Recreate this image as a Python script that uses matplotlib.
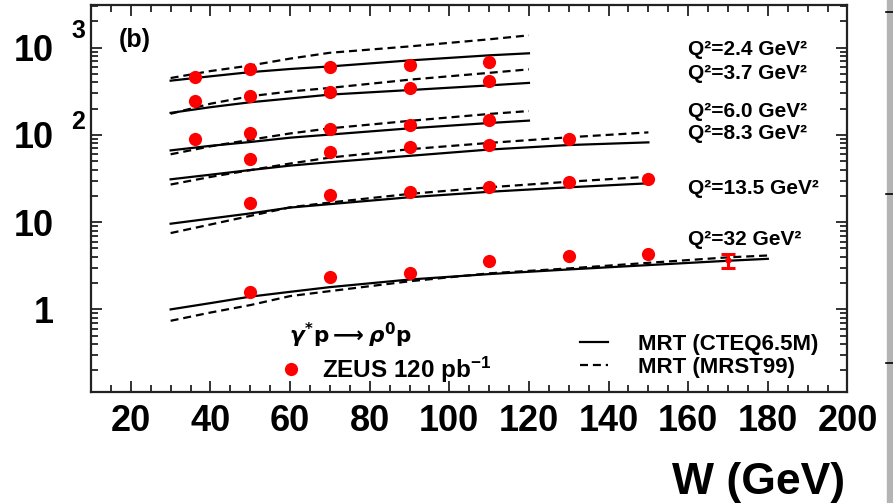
import matplotlib
matplotlib.use("Agg")
import matplotlib.pyplot as plt
from matplotlib.ticker import MultipleLocator, LogLocator, NullFormatter, FixedLocator, FixedFormatter
from matplotlib.lines import Line2D
from matplotlib.patches import Rectangle

plt.rcParams['font.family'] = ['Liberation Sans', 'DejaVu Sans']
plt.rcParams['font.weight'] = 'bold'
plt.rcParams['mathtext.fontset'] = 'custom'
plt.rcParams['mathtext.rm'] = 'Liberation Sans:bold'
plt.rcParams['mathtext.it'] = 'Liberation Sans:italic:bold'
plt.rcParams['mathtext.bf'] = 'Liberation Sans:bold'

# ---------------- data ----------------
q2_labels = ["Q²=2.4 GeV²", "Q²=3.7 GeV²", "Q²=6.0 GeV²", "Q²=8.3 GeV²",
             "Q²=13.5 GeV²", "Q²=32 GeV²"]

# model curves (W grids)
w_a = [30, 40, 50, 60, 70, 90, 110, 120]
w_b = [30, 40, 50, 60, 70, 90, 110, 130, 150]
w_c = [30, 40, 50, 60, 70, 90, 110, 130, 150, 170, 180]

cteq_q2_2p4 = [419, 470, 525, 570, 610, 715, 818, 863]
mrst_q2_2p4 = [449, 540, 625, 750, 875, 1035, 1248, 1387]
cteq_q2_3p7 = [179, 208, 237, 262, 290, 327, 370, 395]
mrst_q2_3p7 = [175, 228, 278, 315, 346, 430, 515, 565]
cteq_q2_6p0 = [66.5, 75, 83, 93, 101, 119, 137, 146]
mrst_q2_6p0 = [60, 74, 88, 104, 119, 145, 174, 188]
cteq_q2_8p3 = [31, 35, 39.6, 44.5, 48.7, 57.6, 68, 76.6, 82.2]
mrst_q2_8p3 = [27, 33, 39.5, 47, 55, 68.6, 81, 94, 107]
cteq_q2_13p5 = [9.6, 11.0, 12.6, 14.7, 16.1, 19.3, 22.3, 25.1, 27.9]
mrst_q2_13p5 = [7.5, 9.4, 11.8, 14.8, 16.8, 21.1, 25.1, 29.1, 33.2]
cteq_q2_32 = [1.0, 1.18, 1.40, 1.59, 1.80, 2.20, 2.54, 2.87, 3.22, 3.61, 3.80]
mrst_q2_32 = [0.74, 0.92, 1.12, 1.42, 1.62, 2.10, 2.59, 2.95, 3.42, 3.95, 4.15]

# ZEUS data
w_d1 = [36, 50, 70, 90, 110]
w_d2 = [50, 70, 90, 110, 130]
w_d3 = [50, 70, 90, 110, 130, 150]
w_d4 = [50, 70, 90, 110, 130, 150]
zeus_q2_2p4 = [458, 568, 606, 633, 691]
zeus_q2_3p7 = [247, 283, 312, 349, 415]
zeus_q2_6p0 = [90.5, 106, 117, 131, 148]
zeus_q2_8p3 = [53, 63, 72, 77, 89]
zeus_q2_13p5 = [16.8, 20.5, 22.4, 25.0, 28.7, 31.2]
zeus_q2_32 = [1.59, 2.33, 2.63, 3.61, 4.12, 4.27]
w_err = [170]
zeus_err_val = [3.65]
zeus_err_lo = [0.67]
zeus_err_hi = [0.70]

x_ticks = [20, 40, 60, 80, 100, 120, 140, 160, 180, 200]
y_ticks = [1, 10, 100, 1000]
y_tick_labels = ["1", "10", "10", "10"]

# ---------------- figure ----------------
fig = plt.figure(figsize=(8.93, 5.03), dpi=100)
ax = fig.add_axes([0.1019, 0.2207, 0.8471, 0.7694])
ax.set_yscale('log')

solid_kw = dict(color='black', lw=1.6, ls='-')
dash_kw = dict(color='black', lw=1.6, ls=(0, (3.6, 2.2)))
red = '#ff0000'

curves = [(w_a, cteq_q2_2p4, mrst_q2_2p4), (w_a, cteq_q2_3p7, mrst_q2_3p7),
          (w_a, cteq_q2_6p0, mrst_q2_6p0), (w_b, cteq_q2_8p3, mrst_q2_8p3),
          (w_b, cteq_q2_13p5, mrst_q2_13p5), (w_c, cteq_q2_32, mrst_q2_32)]
for w, c, m in curves:
    ax.plot(w, m, **dash_kw)
    ax.plot(w, c, **solid_kw)

points = [(w_d1, zeus_q2_2p4), (w_d1, zeus_q2_3p7), (w_d1, zeus_q2_6p0),
          (w_d2, zeus_q2_8p3), (w_d3, zeus_q2_13p5), (w_d4, zeus_q2_32)]
for w, v in points:
    ax.plot(w, v, 'o', color=red, ms=9.5, mec='none', zorder=5)
ax.errorbar(w_err, zeus_err_val, yerr=[zeus_err_lo, zeus_err_hi], fmt='o',
            color=red, ms=3.5, elinewidth=2.2, capsize=5, capthick=2.2, zorder=5)

ax.set_xlim(10, 200)
ax.set_ylim(0.113, 3090)

ax.xaxis.set_major_locator(FixedLocator(x_ticks))
ax.xaxis.set_minor_locator(MultipleLocator(5))
ax.yaxis.set_major_locator(FixedLocator(y_ticks))
ax.yaxis.set_major_formatter(FixedFormatter(y_tick_labels))
ax.yaxis.set_minor_locator(LogLocator(base=10, subs=range(2, 10)))
ax.yaxis.set_minor_formatter(NullFormatter())

ax.tick_params(which='both', direction='in', top=True, right=True, width=1.3,
               colors='#222222', labelcolor='black')
ax.tick_params(which='major', length=8)
ax.tick_params(which='minor', length=5)
ax.tick_params(axis='x', which='major', labelsize=26, pad=9)
ax.tick_params(axis='y', which='major', labelsize=26, pad=27)
for lab in ax.get_xticklabels() + ax.get_yticklabels():
    lab.set_fontweight('bold')
for sp in ax.spines.values():
    sp.set_linewidth(1.6)
    sp.set_color('#222222')

# exponents on y labels
ax.annotate('3', xy=(0, 1000), xycoords=('axes fraction', 'data'),
            xytext=(-9.4, 12), textcoords='offset points', ha='center', va='center',
            fontsize=18, fontweight='bold')
ax.annotate('2', xy=(0, 100), xycoords=('axes fraction', 'data'),
            xytext=(-9.4, 9), textcoords='offset points', ha='center', va='center',
            fontsize=18, fontweight='bold')

# panel label
ax.text(0.037, 0.9096, '(b)', transform=ax.transAxes, fontsize=18,
        fontweight='bold', va='center', ha='left')

# Q2 labels
q2_ypos = [0.886, 0.822, 0.726, 0.667, 0.525, 0.395]
for lab, yp in zip(q2_labels, q2_ypos):
    ax.text(0.789, yp, lab, transform=ax.transAxes, fontsize=15,
            fontweight='bold', va='center', ha='left')

# process label
ax.text(0.262, 0.147, r'$\gamma^{*}\mathbf{p}\longrightarrow\rho^{0}\mathbf{p}$',
        transform=ax.transAxes, fontsize=15.5, fontweight='bold', va='center', ha='left',
        math_fontfamily='dejavusans')

# legends
h_zeus = Line2D([], [], marker='o', ls='none', color=red, ms=9.5, mec='none')
leg1 = ax.legend([h_zeus], [r'ZEUS 120 pb$^{-1}$'], loc='center left',
                 bbox_to_anchor=(0.2485, 0.0568), frameon=False, borderpad=0,
                 borderaxespad=0, handlelength=0.95, handletextpad=0.8,
                 prop={'weight': 'bold', 'size': 17.5})
ax.add_artist(leg1)
h_c = Line2D([], [], **solid_kw)
h_m = Line2D([], [], **dash_kw)
ax.legend([h_c, h_m], ['MRT (CTEQ6.5M)', 'MRT (MRST99)'], loc='center left',
          bbox_to_anchor=(0.6464, 0.093), frameon=False, borderpad=0,
          borderaxespad=0, handlelength=1.26, handletextpad=1.35,
          labelspacing=0.1, prop={'weight': 'bold', 'size': 16})

# axis title
fig.text(0.9463, 0.0398, 'W (GeV)', ha='right', va='center', fontsize=32,
         fontweight='bold')

# right-edge strip from the source slide
fig.patches.append(Rectangle((886.7 / 893, 0), 7 / 893, 1, transform=fig.transFigure,
                             color='#b4b4b4', zorder=0))
for yy in [11.7, 194, 363.3]:
    fig.add_artist(Line2D([885.7 / 893, 1.0], [1 - yy / 503, 1 - yy / 503],
                          transform=fig.transFigure, color='black', lw=1.2))

fig.savefig('out.png', dpi=100)
